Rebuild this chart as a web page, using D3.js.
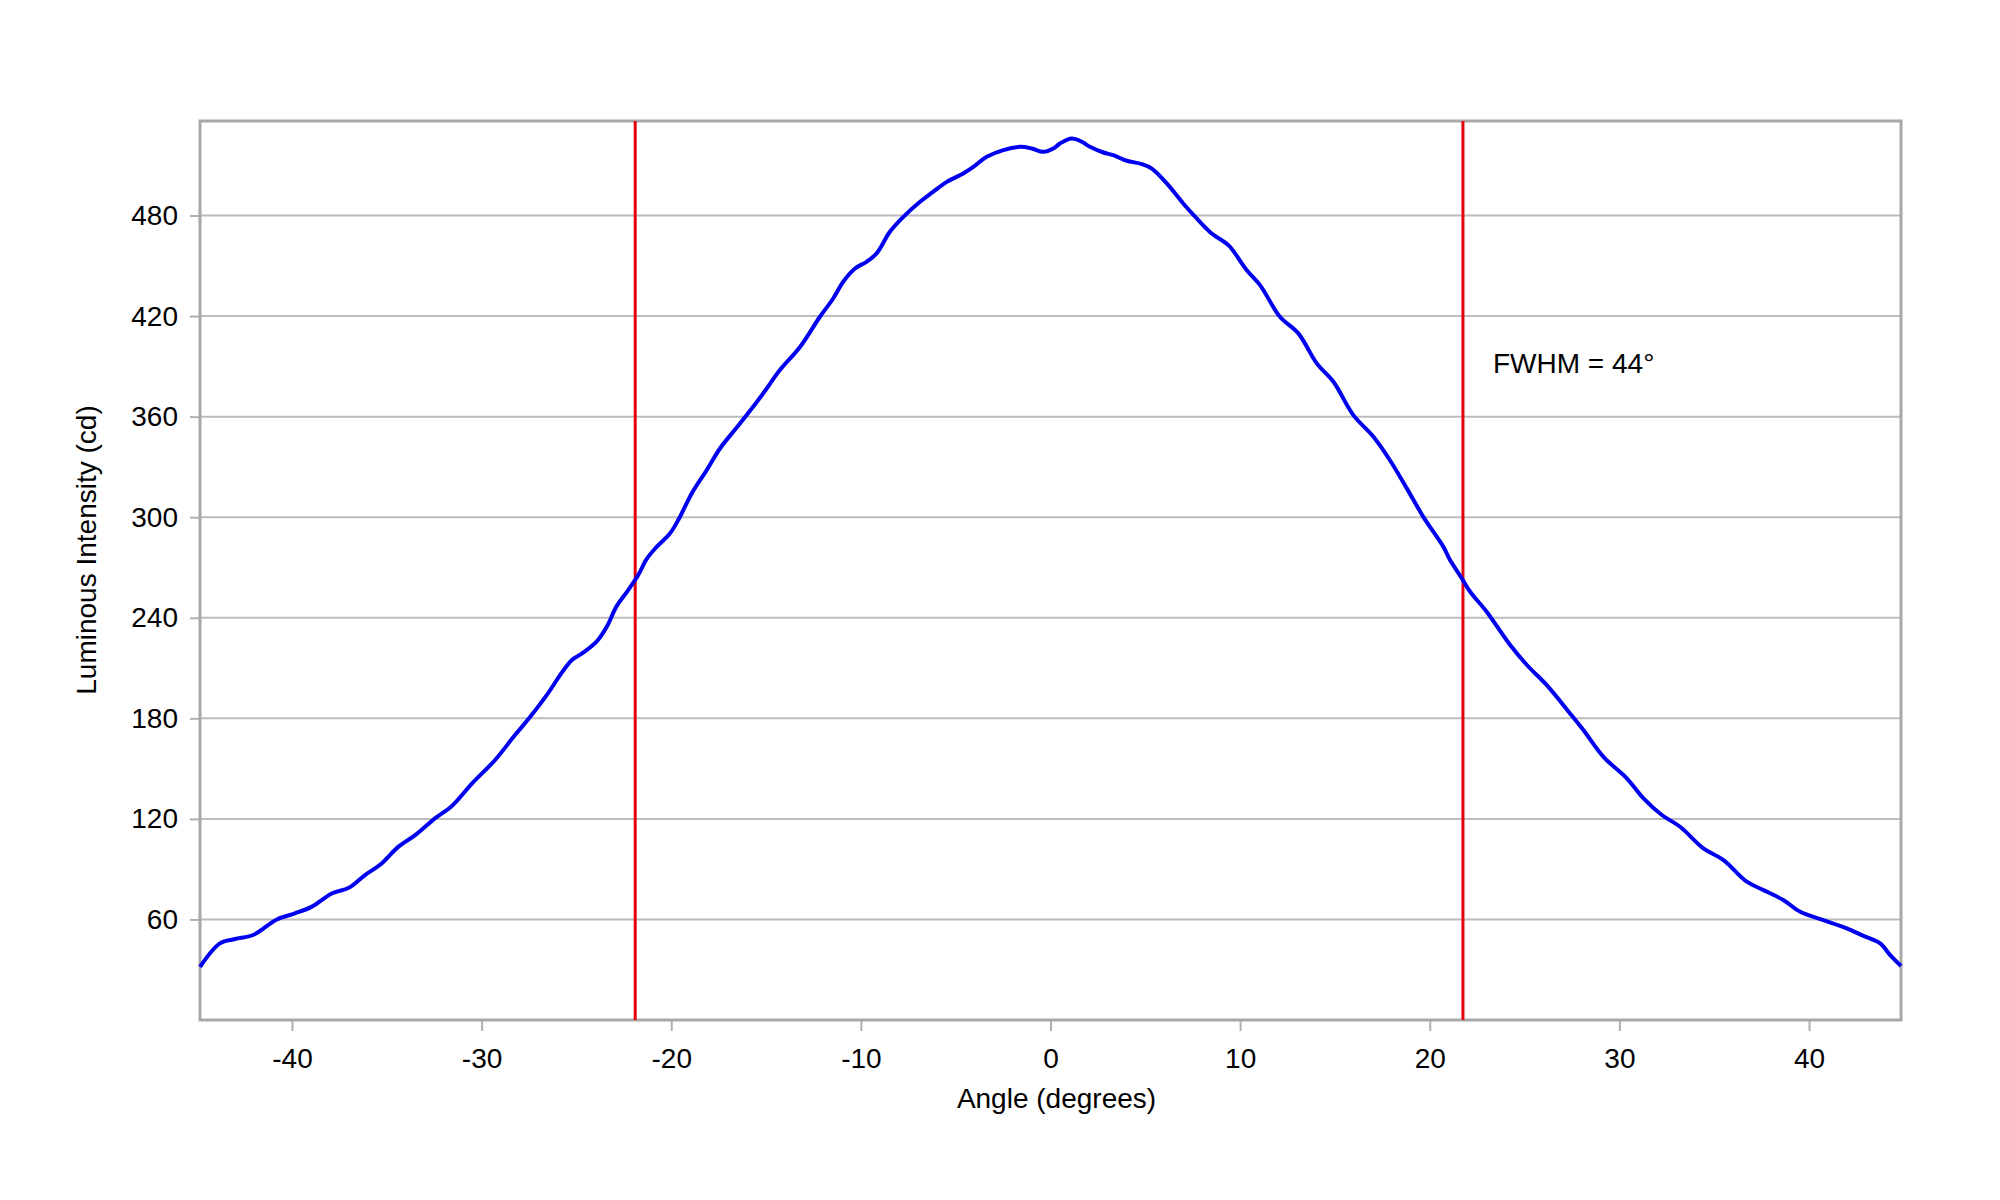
<!DOCTYPE html>
<html>
<head>
<meta charset="utf-8">
<script src="https://cdn.jsdelivr.net/npm/d3@7"></script>
<style>
  body { margin: 0; background: #fff; }
  text { font-family: Arial, "Liberation Sans", sans-serif; fill: #000; }
</style>
</head>
<body>
<div id="chart"></div>
<script>
// angle (degrees) and luminous intensity (cd)
var angles = [-44.85, -43.8, -43.0, -42.05, -40.8, -39.85, -38.97, -37.9, -37.0, -36.15,
    -35.27, -34.4, -33.5, -32.46, -31.58, -30.5, -29.3, -28.24, -27.5, -26.5,
    -25.8, -25.25, -24.7, -23.94, -23.4, -22.9, -22.27, -21.74, -21.3, -20.77,
    -20.07, -19.63, -18.92, -18.13, -17.43, -16.73, -16.02, -15.15, -14.27, -13.2,
    -12.16, -11.46, -10.93, -10.31, -9.7, -9.17, -8.47, -7.76, -6.88, -6.18,
    -5.47, -4.6, -4.07, -3.36, -2.49, -1.6, -0.99, -0.38, 0.15, 0.5,
    1.12, 1.65, 2.08, 2.79, 3.31, 4.02, 4.81, 5.34, 6.13, 7.0,
    7.71, 8.5, 9.38, 10.35, 11.05, 12.1, 13.07, 14.04, 14.92, 15.97,
    17.03, 17.9, 18.79, 19.66, 20.72, 21.07, 21.69, 22.13, 23.0, 24.24,
    25.12, 26.17, 27.4, 28.1, 29.16, 30.39, 31.27, 32.24, 33.2, 34.43,
    35.49, 36.72, 37.6, 38.66, 39.53, 40.76, 41.99, 42.87, 43.75, 44.28, 44.85];
var intensity = [31.7, 45.7, 48.3, 50.7, 60, 63.6, 67.5, 75.5, 78.9, 86.5,
    93.4, 103.3, 110.3, 120.3, 127.6, 141.2, 155, 170, 180, 194.9,
    206.8, 214.7, 218.7, 225.7, 234.6, 246.5, 256.5, 265.5, 275, 282.3,
    290.3, 298.3, 314.2, 328.1, 341, 351, 361, 373.9, 387.8, 401.7,
    419.6, 430.5, 440.5, 448.4, 452.4, 457.4, 470.3, 479.2, 488.2, 494.2,
    500.1, 505.1, 509, 515, 519, 521, 520, 518, 520, 523,
    526, 524, 521, 517.6, 516, 512.7, 510.7, 508, 499.2, 487.2,
    478.3, 469.3, 462.3, 447.4, 438.5, 419.6, 409.7, 391.8, 380.8, 360.9,
    348, 334, 317.2, 300.2, 282.3, 274.4, 263.5, 255.5, 243.6, 223.7,
    211.8, 199.8, 182.9, 173, 157, 144.2, 132.2, 122.3, 115.3, 102.4,
    95.4, 82.5, 77.5, 71.5, 64.6, 59.6, 54.7, 50.2, 45.7, 38.7, 32.2];
var xTicks = [-40, -30, -20, -10, 0, 10, 20, 30, 40];
var yTicks = [60, 120, 180, 240, 300, 360, 420, 480];
var fwhmBounds = [-21.9, 21.75];
var fwhmLabel = "FWHM = 44\u00b0";

var chart_width = 2000, chart_height = 1200;
var plot_left = 200, plot_right = 1901, plot_top = 121, plot_bottom = 1020;

var svg = d3.select("#chart").append("svg")
    .attr("width", chart_width)
    .attr("height", chart_height);

svg.append("rect").attr("width", chart_width).attr("height", chart_height).attr("fill", "#fff");

var xScale = d3.scaleLinear().domain([-44.85, 44.85]).range([plot_left, plot_right]);
var yScale = d3.scaleLinear().domain([0, 536.4]).range([plot_bottom, plot_top]);

// horizontal grid
svg.append("g").selectAll("line").data(yTicks).enter()
    .append("line")
    .attr("x1", plot_left).attr("x2", plot_right)
    .attr("y1", function (d) { return yScale(d); })
    .attr("y2", function (d) { return yScale(d); })
    .attr("stroke", "#bcbcbc")
    .attr("stroke-width", 2);

// axes
var xAxis = svg.append("g")
    .attr("transform", `translate(0, ${plot_bottom})`)
    .call(d3.axisBottom(xScale).tickValues(xTicks).tickSize(11).tickPadding(17).tickFormat(d3.format("d")));
var yAxis = svg.append("g")
    .attr("transform", `translate(${plot_left}, 0)`)
    .call(d3.axisLeft(yScale).tickValues(yTicks).tickSize(10).tickPadding(12));

[xAxis, yAxis].forEach(function (ax) {
    ax.select(".domain").remove();
    ax.selectAll(".tick line").attr("stroke", "#b0b0b0").attr("stroke-width", 2);
    ax.selectAll(".tick text").attr("font-size", 28).attr("fill", "#000")
        .style("font-family", "Arial, 'Liberation Sans', sans-serif");
});
xAxis.selectAll(".tick text").text(function (d) { return d < 0 ? "-" + Math.abs(d) : d; });

// frame
svg.append("rect")
    .attr("x", plot_left).attr("y", plot_top)
    .attr("width", plot_right - plot_left).attr("height", plot_bottom - plot_top)
    .attr("fill", "none")
    .attr("stroke", "#a8a8a8")
    .attr("stroke-width", 3);

// FWHM markers
svg.append("g").selectAll("line").data(fwhmBounds).enter()
    .append("line")
    .attr("x1", function (d) { return xScale(d); })
    .attr("x2", function (d) { return xScale(d); })
    .attr("y1", plot_top).attr("y2", plot_bottom)
    .attr("stroke", "#e8000b")
    .attr("stroke-width", 3);

// curve
var points = angles.map(function (a, i) { return [a, intensity[i]]; });
var line = d3.line()
    .x(function (d) { return xScale(d[0]); })
    .y(function (d) { return yScale(d[1]); })
    .curve(d3.curveCatmullRom.alpha(0.5));

svg.append("path")
    .datum(points)
    .attr("d", line)
    .attr("fill", "none")
    .attr("stroke", "#0000f0")
    .attr("stroke-width", 4)
    .attr("stroke-linejoin", "round");

// annotation
svg.append("text")
    .attr("x", 1493).attr("y", 373)
    .attr("font-size", 28)
    .text(fwhmLabel);

// axis titles
svg.append("text")
    .attr("x", (plot_left + plot_right) / 2 + 6).attr("y", 1108)
    .attr("text-anchor", "middle")
    .attr("font-size", 28)
    .text("Angle (degrees)");

svg.append("text")
    .attr("transform", `translate(96, 550) rotate(-90)`)
    .attr("text-anchor", "middle")
    .attr("font-size", 28)
    .text("Luminous Intensity (cd)");
</script>
</body>
</html>
